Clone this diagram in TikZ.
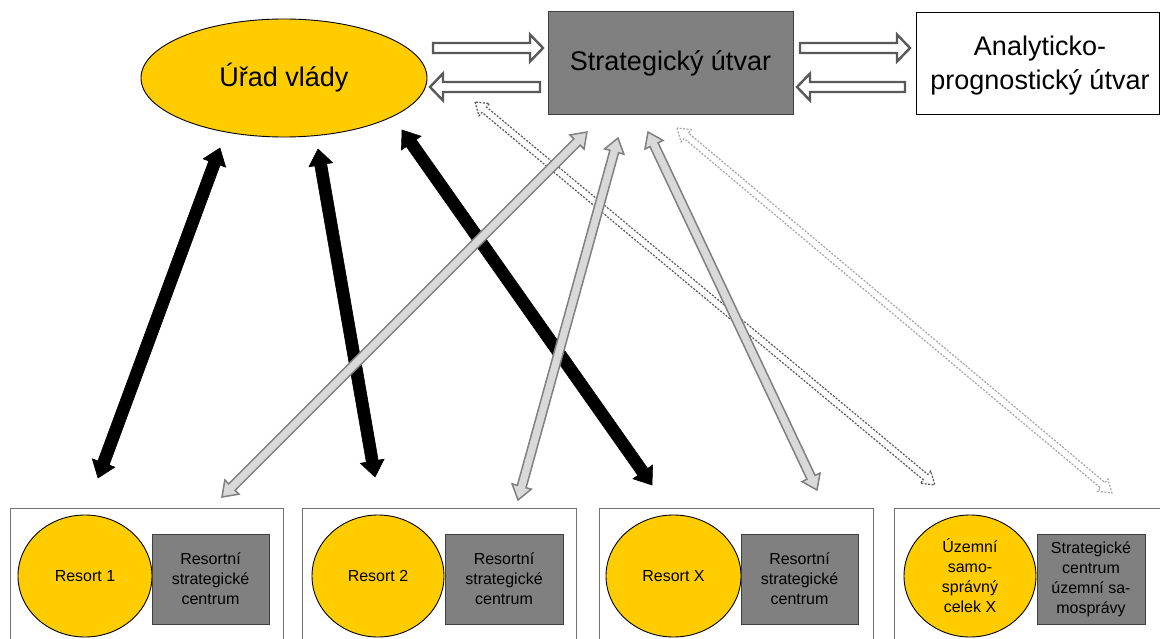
\documentclass[tikz,border=0pt]{standalone}
\usepackage{fontspec}
\setmainfont{Liberation Sans}
\usetikzlibrary{shapes.geometric}
\definecolor{gold}{HTML}{FFCC00}
\definecolor{midgray}{HTML}{808080}
\definecolor{lightfill}{HTML}{D9D9D9}
\definecolor{arrowedge}{HTML}{595959}
\definecolor{faintedge}{HTML}{A6A6A6}

% double-headed block arrow: #1 style, #2 from, #3 to, #4 shaft half width, #5 head half width, #6 head length
\newcommand{\dblarrow}[6]{%
  \pgfpointdiff{\pgfpointanchor{#2}{center}}{\pgfpointanchor{#3}{center}}%
  \pgfgetlastxy{\baDX}{\baDY}%
  \pgfmathsetmacro\baL{veclen(\baDX,\baDY)}%
  \pgfmathsetmacro\baA{atan2(\baDY,\baDX)}%
  \pgfmathsetmacro\baM{\baL-#6}%
  \begin{scope}[shift={(#2)},rotate=\baA]
    \draw[#1] (0,0) -- (#6,#5) -- (#6,#4) -- (\baM,#4) -- (\baM,#5) -- (\baL,0)
      -- (\baM,-#5) -- (\baM,-#4) -- (#6,-#4) -- (#6,-#5) -- cycle;
  \end{scope}}
% single-headed block arrow
\newcommand{\onearrow}[6]{%
  \pgfpointdiff{\pgfpointanchor{#2}{center}}{\pgfpointanchor{#3}{center}}%
  \pgfgetlastxy{\baDX}{\baDY}%
  \pgfmathsetmacro\baL{veclen(\baDX,\baDY)}%
  \pgfmathsetmacro\baA{atan2(\baDY,\baDX)}%
  \pgfmathsetmacro\baM{\baL-#6}%
  \begin{scope}[shift={(#2)},rotate=\baA]
    \draw[#1] (0,#4) -- (\baM,#4) -- (\baM,#5) -- (\baL,0)
      -- (\baM,-#5) -- (\baM,-#4) -- (0,-#4) -- cycle;
  \end{scope}}

\tikzset{
  bigtext/.style={font=\fontsize{27}{34}\selectfont, align=center, text=black},
  smalltext/.style={font=\fontsize{16}{20}\selectfont, align=center, text=black},
  goldoval/.style={ellipse, draw=black, line width=0.9pt, fill=gold, inner sep=0pt},
  graybox/.style={rectangle, draw=black!75, line width=1pt, fill=midgray, inner sep=0pt},
  whitebox/.style={rectangle, draw=black, line width=1pt, fill=white, inner sep=0pt},
  framebox/.style={rectangle, draw=black!55, line width=1pt, inner sep=0pt},
  blackarr/.style={draw=black, fill=black, line width=0.6pt, line join=miter},
  lightarr/.style={draw=midgray, fill=lightfill, line width=1.5pt, line join=miter},
  hollowarr/.style={draw=arrowedge, fill=white, line width=2.4pt, line join=miter},
  dasharr/.style={draw=arrowedge, fill=white, line width=1.2pt, dash pattern=on 2pt off 1.5pt},
  faintarr/.style={draw=faintedge, fill=white, line width=1.2pt, dash pattern=on 2pt off 1.5pt},
}

\begin{document}
\begin{tikzpicture}[x=1pt, y=-1pt]
\clip (0,0) rectangle (1160,639);
\fill[white] (0,0) rectangle (1160,639);

% top row
\node[goldoval, bigtext, minimum width=286, minimum height=118] (urad) at (284,78) {Úřad vlády};
\node[graybox, bigtext, minimum width=245, minimum height=103] (strat) at (670.5,63.5) {Strategický útvar};
\node[whitebox, bigtext, minimum width=243, minimum height=102] (anal) at (1038,64) {};
\node[bigtext] (analtext) at (1040,66) {Analyticko-\\prognostický útvar};

% bottom frames
\node[framebox, minimum width=273, minimum height=140] (f1) at (146.5,578) {};
\node[framebox, minimum width=274, minimum height=140] (f2) at (439,578) {};
\node[framebox, minimum width=274, minimum height=140] (f3) at (736,578) {};
\node[framebox, minimum width=271, minimum height=140] (f4) at (1029.5,578) {};

\node[goldoval, smalltext, minimum width=134, minimum height=122] (r1) at (85,576) {Resort 1};
\node[graybox, smalltext, minimum width=117, minimum height=90] (c1) at (210.5,579) {Resortní\\strategické\\centrum};
\node[goldoval, smalltext, minimum width=132, minimum height=122] (r2) at (378,576) {Resort 2};
\node[graybox, smalltext, minimum width=118, minimum height=90] (c2) at (504,579) {Resortní\\strategické\\centrum};
\node[goldoval, smalltext, minimum width=135, minimum height=122] (r3) at (673.5,576) {Resort X};
\node[graybox, smalltext, minimum width=117, minimum height=90] (c3) at (799.5,579) {Resortní\\strategické\\centrum};
\node[goldoval, smalltext, minimum width=132, minimum height=122] (r4) at (970,576) {Územní\\samo-\\správný\\celek X};
\node[graybox, smalltext, minimum width=108, minimum height=90] (c4) at (1091,579) {Strategické\\centrum\\územní sa-\\mosprávy};

% arrow end points
\coordinate (h1a) at (433,48);  \coordinate (h1b) at (543,48);
\coordinate (h2a) at (540,87);  \coordinate (h2b) at (430,87);
\coordinate (h3a) at (800,48);  \coordinate (h3b) at (910,48);
\coordinate (h4a) at (905,87);  \coordinate (h4b) at (797,87);

\coordinate (ga) at (475,102);  \coordinate (gb) at (935,485);
\coordinate (ha) at (677,128);  \coordinate (hb) at (1112,493);

\coordinate (aa) at (98,478);   \coordinate (ab) at (220,148);
\coordinate (ba) at (375,477);  \coordinate (bb) at (318,149);
\coordinate (ca) at (652,485);  \coordinate (cb) at (402,130);

\coordinate (da) at (222,497);  \coordinate (db) at (587,132);
\coordinate (ea) at (518,500);  \coordinate (eb) at (618,138);
\coordinate (fa) at (817,490);  \coordinate (fb) at (648,132);

% horizontal hollow arrows
\onearrow{hollowarr}{h1a}{h1b}{5}{13.5}{13}
\onearrow{hollowarr}{h2a}{h2b}{5}{13.5}{13}
\onearrow{hollowarr}{h3a}{h3b}{5}{13.5}{13}
\onearrow{hollowarr}{h4a}{h4b}{5}{13.5}{13}

% dashed hollow arrows
\dblarrow{faintarr}{ha}{hb}{3.5}{8}{12}
\dblarrow{dasharr}{ga}{gb}{3.5}{8}{12}

% black arrows
\dblarrow{blackarr}{aa}{ab}{6}{12}{16}
\dblarrow{blackarr}{ba}{bb}{6}{12}{16}
\dblarrow{blackarr}{ca}{cb}{6}{12}{16}

% light grey arrows
\dblarrow{lightarr}{da}{db}{4.5}{10}{14}
\dblarrow{lightarr}{ea}{eb}{4.5}{10}{14}
\dblarrow{lightarr}{fa}{fb}{4.5}{10}{14}
\end{tikzpicture}
\end{document}
